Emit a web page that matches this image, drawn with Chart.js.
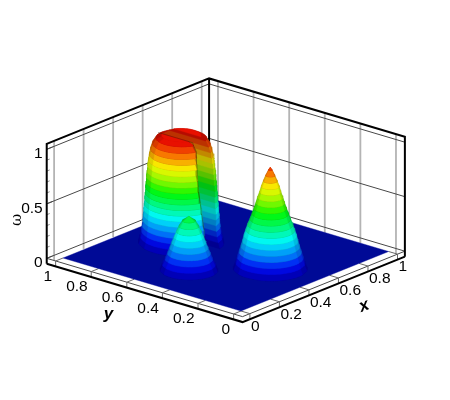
<!DOCTYPE html>
<html lang="en">
<head>
    <meta charset="UTF-8">
    <title>Rotating bodies surface</title>
    <script src="https://cdn.jsdelivr.net/npm/chart.js@4.4.0/dist/chart.umd.min.js"></script>
    <style>
        html, body { margin: 0; background: #fff; }
        canvas { display: block; }
    </style>
</head>
<body>
    <canvas id="surfaceChart" width="450" height="400"></canvas>

    <script>
        // Tick values and labels
        const xTicks = [0, 0.2, 0.4, 0.6, 0.8, 1];
        const yTicks = [0, 0.2, 0.4, 0.6, 0.8, 1];
        const zTicks = [0, 0.5, 1];
        const zMinorTicks = [0.1, 0.2, 0.3, 0.4, 0.6, 0.7, 0.8, 0.9];

        // Contour levels and the colour of the band above each level
        const levels = [0, 0.05, 0.1, 0.15, 0.2, 0.25, 0.3, 0.35, 0.4, 0.45, 0.5, 0.55, 0.6, 0.65, 0.7, 0.75, 0.8, 0.85, 0.9, 0.95];
        const bandColors = ['#0000b8', '#0008e0', '#0030f4', '#0070f8', '#00a0f8', '#00d0f8', '#00f8f0', '#00f8b8', '#00f880', '#00f848',
            '#00f818', '#30f800', '#70f800', '#a8f800', '#d8f800', '#f8e800', '#f8b000', '#f87800', '#f04000', '#e81000'];

        // Radius of each body at each level
        const coneCenter = [0.5, 0.25];
        const coneRadii = [0.16, 0.15, 0.143, 0.135, 0.127, 0.12, 0.114, 0.106, 0.098, 0.088, 0.079, 0.07, 0.062, 0.055, 0.046, 0.039, 0.03, 0.02, 0.008];
        const conePeak = 0.925;

        const humpCenter = [0.25, 0.5];
        const humpRadii = [0.125, 0.115, 0.103, 0.093, 0.083, 0.074, 0.064, 0.054, 0.043, 0.028];
        const humpPeak = 0.49;

        const cylinderCenter = [0.5, 0.75];
        const cylinderRadii = [0.185, 0.178, 0.172, 0.169, 0.166, 0.164, 0.162, 0.16, 0.158, 0.156, 0.154, 0.152, 0.15, 0.148, 0.145, 0.142, 0.138, 0.133, 0.125, 0.11];
        const cylinderTop = 0.975;
        const cylinderTopRadius = 0.085;
        const slotHalfWidths = [0.04, 0.04, 0.04, 0.04, 0.04, 0.042, 0.044, 0.046, 0.048, 0.05, 0.052, 0.055, 0.055, 0.055, 0.055, 0.052, 0.05, 0.045, 0.042, 0.04, 0.04];
        const slotEnd = 0.85;

        // View of the box
        const origin = [241, 311];
        const xStep = [147.6, -59.5];
        const yStep = [-178, -53];
        const zStep = -109;
        const margin = 0.05;
        const lo = -margin, hi = 1 + margin;

        // Shading of a band, brightest towards the viewer
        const viewAngle = 220;
        const shadeTiers = [[80, 0.9], [60, 1]];
        const edgeShade = 0.78;

        function project(x, y, z) {
            return {
                x: origin[0] + x * xStep[0] + y * yStep[0],
                y: origin[1] + x * xStep[1] + y * yStep[1] + z * zStep
            };
        }

        function shade(hex, f) {
            const n = parseInt(hex.slice(1), 16);
            const c = [n >> 16, (n >> 8) & 255, n & 255].map(v => Math.round(v * f));
            return `rgb(${c[0]},${c[1]},${c[2]})`;
        }

        const datasets = [];
        function addLine(points, color, width) {
            datasets.push({
                data: points, showLine: true, borderColor: color, borderWidth: width,
                pointRadius: 0, fill: false, clip: false, order: -datasets.length
            });
        }
        function addShape(points, color) {
            const closed = points.concat([points[0]]);
            datasets.push({
                data: closed, showLine: true, borderColor: color, backgroundColor: color, borderWidth: 0.4,
                pointRadius: 0, fill: 'shape', clip: false, order: -datasets.length
            });
        }

        // Outline of two stacked rings
        function hull(points) {
            const p = points.slice().sort((a, b) => a.x - b.x || a.y - b.y);
            const cross = (o, a, b) => (a.x - o.x) * (b.y - o.y) - (a.y - o.y) * (b.x - o.x);
            const half = list => {
                const out = [];
                list.forEach(q => {
                    while (out.length > 1 && cross(out[out.length - 2], out[out.length - 1], q) <= 0) out.pop();
                    out.push(q);
                });
                out.pop();
                return out;
            };
            return half(p).concat(half(p.reverse()));
        }

        // A piece says which part of the circle it keeps at level i, and where the cut ends
        const whole = { keep: () => true, ends: () => [] };

        function ring(center, r, z, piece, i) {
            const pts = [];
            for (let a = 0; a < 64; a++) {
                const px = center[0] + r * Math.cos(a * Math.PI / 32);
                const py = center[1] + r * Math.sin(a * Math.PI / 32);
                if (piece.keep(px, py, i)) pts.push(project(px, py, z));
            }
            piece.ends(r, i).forEach(e => pts.push(project(e[0], e[1], z)));
            return pts;
        }

        function arc(center, r, z, piece, i, halfWidth) {
            const pts = [];
            for (let a = -halfWidth; a <= halfWidth; a += 4) {
                const t = (viewAngle + a) * Math.PI / 180;
                const px = center[0] + r * Math.cos(t);
                const py = center[1] + r * Math.sin(t);
                if (piece.keep(px, py, i)) pts.push(project(px, py, z));
            }
            return pts;
        }

        function addBody(center, radii, topZ, topRadius, piece) {
            radii.forEach((r, i) => {
                const nextZ = i + 1 < radii.length ? levels[i + 1] : topZ;
                const nextR = i + 1 < radii.length ? radii[i + 1] : topRadius;
                const pts = ring(center, r, levels[i], piece, i).concat(ring(center, nextR, nextZ, piece, i));
                if (pts.length < 3) return;
                addShape(hull(pts), shade(bandColors[i], edgeShade));
                shadeTiers.forEach(tier => {
                    const low = arc(center, r, levels[i], piece, i, tier[0]);
                    const high = arc(center, nextR, nextZ, piece, i, tier[0]);
                    if (low.length > 1 && high.length > 1) addShape(low.concat(high.reverse()), shade(bandColors[i], tier[1]));
                });
            });
            if (topRadius > 0) {
                const top = ring(center, topRadius, topZ, piece, radii.length);
                if (top.length > 2) addShape(hull(top), bandColors[bandColors.length - 1]);
            }
        }

        function slotChord(r, cut) {
            const c = cut - cylinderCenter[0];
            if (Math.abs(c) >= r) return [];
            const h = Math.sqrt(r * r - c * c);
            return [[cut, cylinderCenter[1] - h], [cut, cylinderCenter[1] + h]];
        }

        const bridge = {
            keep: (x, y) => y >= slotEnd,
            ends: r => {
                const c = slotEnd - cylinderCenter[1];
                if (r <= c) return [];
                const h = Math.sqrt(r * r - c * c);
                return [[cylinderCenter[0] - h, slotEnd], [cylinderCenter[0] + h, slotEnd]];
            }
        };
        const farLobe = {
            keep: (x, y, i) => x >= cylinderCenter[0] + slotHalfWidths[i],
            ends: (r, i) => slotChord(r, cylinderCenter[0] + slotHalfWidths[i])
        };
        const nearLobe = {
            keep: (x, y, i) => x <= cylinderCenter[0] - slotHalfWidths[i],
            ends: (r, i) => slotChord(r, cylinderCenter[0] - slotHalfWidths[i])
        };

        // Walls
        xTicks.forEach(x => addLine([project(x, hi, lo), project(x, hi, hi)], '#b4b4b4', 1.8));
        yTicks.forEach(y => addLine([project(hi, y, lo), project(hi, y, hi)], '#b4b4b4', 1.8));
        zTicks.forEach(z => {
            addLine([project(lo, hi, z), project(hi, hi, z), project(hi, lo, z)], '#484848', 1);
        });

        // Strip of floor around the surface
        addLine([project(lo, hi, 0), project(lo, lo, 0), project(hi, lo, 0)], '#484848', 1);
        xTicks.forEach(x => addLine([project(x, lo, lo), project(x, lo, 0), project(x, 0, 0)], '#686868', 1));
        yTicks.forEach(y => addLine([project(lo, y, lo), project(lo, y, 0), project(0, y, 0)], '#686868', 1));

        // Z axis ticks
        zMinorTicks.forEach(z => addLine([project(lo, hi, z), project(lo + 0.02, hi, z)], '#909090', 1));
        zTicks.forEach(z => addLine([project(lo, hi, z), project(lo + 0.04, hi, z)], '#484848', 1));

        // Box edges
        addLine([project(lo, hi, lo), project(lo, lo, lo), project(hi, lo, lo)], '#000000', 2);
        addLine([project(lo, hi, lo), project(lo, hi, hi), project(hi, hi, hi), project(hi, lo, hi), project(hi, lo, lo)], '#000000', 2);
        addLine([project(hi, hi, lo), project(hi, hi, hi)], '#000000', 2);

        // Floor of the surface
        addShape([project(0, 0, 0), project(1, 0, 0), project(1, 1, 0), project(0, 1, 0)], '#000a96');

        // Slotted cylinder: the far side first, then the near lobe hiding the slot
        addBody(cylinderCenter, cylinderRadii, cylinderTop, cylinderTopRadius, bridge);
        addBody(cylinderCenter, cylinderRadii, cylinderTop, cylinderTopRadius, farLobe);
        addBody(cylinderCenter, cylinderRadii, cylinderTop, cylinderTopRadius, nearLobe);

        // Dark edge of the near lobe along the slot
        const edge = cylinderRadii.map((r, i) => project(cylinderCenter[0] - slotHalfWidths[i], slotChord(r, cylinderCenter[0] - slotHalfWidths[i])[0][1], levels[i]));
        const lip = slotChord(cylinderTopRadius + 0.02, cylinderCenter[0] - slotHalfWidths[20]);
        edge.push(project(lip[0][0], lip[0][1], cylinderTop));
        edge.push(project(lip[1][0], lip[1][1], cylinderTop));
        addLine(edge, 'rgba(50,30,0,0.4)', 1);

        // Cone and hump
        addBody(coneCenter, coneRadii, conePeak, 0, whole);
        addBody(humpCenter, humpRadii, humpPeak, 0, whole);

        // Tick labels and axis titles
        const labelsPlugin = {
            id: 'axisLabels',
            afterDraw(chart) {
                const { ctx, scales } = chart;
                const put = (text, p, dx, dy, align) => {
                    ctx.textAlign = align;
                    ctx.fillText(text, scales.x.getPixelForValue(p.x) + dx, scales.y.getPixelForValue(p.y) + dy);
                };
                ctx.save();
                ctx.fillStyle = '#000';
                ctx.textBaseline = 'middle';
                ctx.font = '15.5px "Liberation Sans"';
                xTicks.forEach(x => put(String(x), project(x, lo, lo), 1, 7.5, 'left'));
                yTicks.forEach(y => put(String(y), project(lo, y, lo), -3.5, 10, 'right'));
                zTicks.forEach(z => put(String(z), project(lo, hi, z), -4, 4.5, 'right'));

                ctx.font = 'italic bold 17px "Liberation Sans"';
                ctx.textAlign = 'center';
                ctx.fillText('y', 108.5, 314);
                ctx.save();
                ctx.translate(364, 306);
                ctx.rotate(-0.35);
                ctx.fillText('x', 0, 0);
                ctx.restore();

                ctx.save();
                ctx.translate(17, 220);
                ctx.rotate(-Math.PI / 2);
                ctx.font = '15px "DejaVu Serif"';
                ctx.fillText('\u03c9', 0, 0);
                ctx.restore();
                ctx.restore();
            }
        };

        new Chart(document.getElementById('surfaceChart'), {
            type: 'scatter',
            data: { datasets },
            options: {
                responsive: false,
                animation: false,
                layout: { padding: 0 },
                elements: { line: { tension: 0 } },
                scales: {
                    x: { type: 'linear', min: 0, max: 450, display: false },
                    y: { type: 'linear', min: 0, max: 400, reverse: true, display: false }
                },
                plugins: { legend: { display: false }, tooltip: { enabled: false } }
            },
            plugins: [labelsPlugin]
        });
    </script>
</body>
</html>
